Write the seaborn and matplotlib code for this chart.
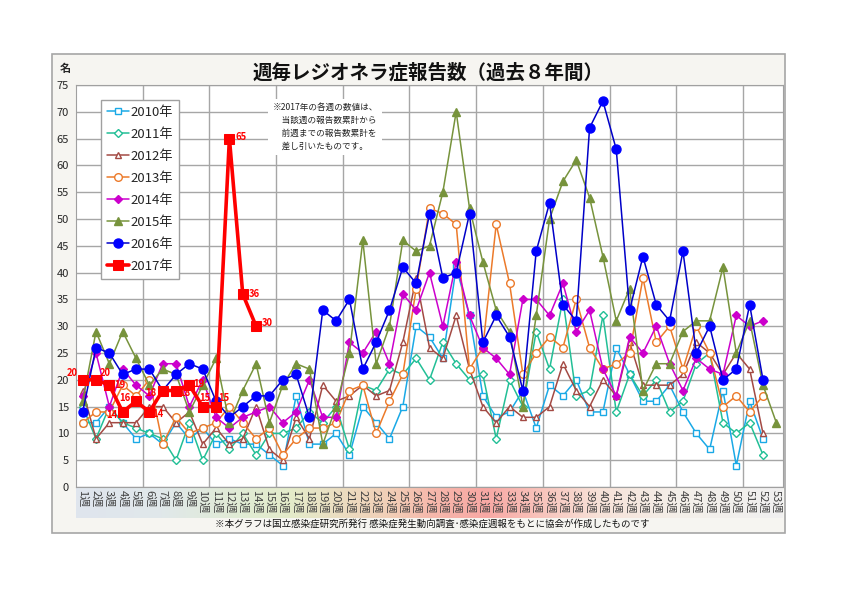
import numpy as np
import pandas as pd
import seaborn as sns
import matplotlib
matplotlib.use("Agg")
import matplotlib.pyplot as plt
from matplotlib.colors import LinearSegmentedColormap
from matplotlib.patches import Rectangle

# weekly counts
y2010 = [12, 12, 15, 12, 9, 10, 8, 12, 9, 11, 8, 9, 8, 8, 6, 4, 17, 8, 8, 10, 6, 15, 12, 9, 15, 30,
         28, 24, 41, 32, 17, 13, 14, 18, 11, 19, 17, 20, 14, 14, 26, 21, 16, 16, 19, 14, 10, 7, 18, 4, 16, 9]
y2011 = [15, 9, 15, 12, 11, 10, 9, 5, 12, 5, 10, 7, 10, 6, 10, 10, 11, 14, 12, 15, 7, 19, 18, 22, 21, 24,
         20, 27, 23, 20, 21, 9, 20, 15, 29, 22, 35, 17, 18, 32, 14, 21, 17, 20, 14, 16, 23, 25, 12, 10, 12, 6]
y2012 = [18, 9, 12, 12, 12, 15, 15, 12, 14, 8, 11, 8, 9, 15, 7, 5, 13, 9, 19, 16, 17, 19, 17, 18, 27, 39,
         26, 24, 32, 22, 15, 12, 15, 13, 13, 15, 23, 18, 15, 20, 17, 27, 19, 19, 19, 21, 27, 25, 21, 25, 22, 10]
y2013 = [12, 14, 14, 19, 17, 20, 8, 13, 10, 11, 12, 15, 12, 9, 11, 6, 9, 11, 11, 12, 18, 19, 10, 16, 21, 37,
         52, 51, 49, 22, 26, 49, 38, 21, 25, 28, 26, 35, 26, 22, 23, 25, 39, 27, 30, 22, 30, 25, 15, 17, 14, 17]
y2014 = [17, 25, 15, 22, 19, 17, 23, 23, 15, 20, 13, 11, 13, 14, 15, 12, 14, 20, 13, 13, 27, 25, 29, 23, 36, 33,
         40, 30, 42, 32, 26, 24, 21, 35, 35, 32, 38, 29, 33, 22, 17, 28, 25, 30, 23, 18, 24, 22, 21, 32, 30, 31]
y2015 = [16, 29, 23, 29, 24, 19, 22, 21, 14, 19, 24, 12, 18, 23, 12, 19, 23, 22, 8, 15, 25, 46, 23, 30, 46, 44,
         45, 55, 70, 52, 42, 33, 29, 15, 32, 50, 57, 61, 54, 43, 31, 37, 18, 23, 23, 29, 31, 31, 41, 25, 31, 19, 12]
y2016 = [14, 26, 25, 21, 22, 22, 18, 21, 23, 22, 16, 13, 15, 17, 17, 20, 21, 13, 33, 31, 35, 22, 27, 33, 41, 38,
         51, 39, 40, 51, 27, 32, 28, 18, 44, 53, 34, 31, 67, 72, 63, 33, 43, 34, 31, 44, 25, 30, 20, 22, 34, 20]
y2017 = [20, 20, 19, 14, 16, 14, 18, 18, 19, 15, 15, 65, 36, 30]

weeks = list(range(1, 54))
week_labels = [f"{w}週" for w in weeks]

# name, values, line colour, marker colour, marker, filled, size
series = [
    ("2010年", y2010, "#1aa9e6", "#1aa9e6", "s", False, 4.5),
    ("2011年", y2011, "#22bf96", "#22bf96", "D", False, 4),
    ("2012年", y2012, "#a34a44", "#a34a44", "^", False, 5),
    ("2013年", y2013, "#ec7a2a", "#ec7a2a", "o", False, 5.5),
    ("2014年", y2014, "#cc00cc", "#cc00cc", "D", True, 4),
    ("2015年", y2015, "#77933c", "#77933c", "^", True, 6),
    ("2016年", y2016, "#0000c8", "#0000ff", "o", True, 6.5),
]

# offsets (pixels) of the red data labels
lab_dx = [-10, 9, 11, -11, -11, 9, -12, 9, 9, 2, 8, 12, 12, 11]
lab_dy = [7, 7, 0, -3, 3, -2, -2, -2, 1, 9, 9, 2, 0, 3]

sns.set_style("white")
plt.rcParams["font.family"] = ["Noto Sans CJK JP", "DejaVu Sans"]

W, H = 842, 595
fig = plt.figure(figsize=(W / 100, H / 100), dpi=100)
fig.patch.set_facecolor("white")

# outer chart frame
fig.patches.append(Rectangle((52 / W, 1 - 533 / H), (785 - 52) / W, (533 - 54) / H,
                             transform=fig.transFigure, facecolor="#f6f5f1",
                             edgecolor="#a6a6a6", lw=1.2, zorder=-5))

ax_l, ax_r, ax_t, ax_b = 76, 783, 85, 487
# gradient band behind the week labels
band = fig.add_axes([ax_l / W, 1 - 518 / H, (ax_r - ax_l) / W, (518 - 488) / H])
band_cmap = LinearSegmentedColormap.from_list("band", [
    (0.0, "#dfe5ee"), (0.12, "#e1e8ea"), (0.22, "#e0ebd6"), (0.3, "#e4ecca"),
    (0.38, "#ecdcc0"), (0.45, "#f2cdb6"), (0.5, "#f6b9ac"), (0.58, "#f8a8a4"),
    (0.66, "#f8c4bc"), (0.74, "#f7e2d8"), (0.85, "#f4efe9"), (1.0, "#f0f0f0")])
band.imshow(np.linspace(0, 1, 256)[None, :], aspect="auto", cmap=band_cmap)
band.axis("off")

ax = fig.add_axes([ax_l / W, 1 - ax_b / H, (ax_r - ax_l) / W, (ax_b - ax_t) / H])
ax.set_facecolor("white")

for name, vals, col, mcol, mk, filled, ms in series:
    df = pd.DataFrame({"week": weeks[:len(vals)], "count": vals})
    sns.lineplot(data=df, x="week", y="count", ax=ax, color=col, lw=1.1,
                 marker=mk, markersize=ms, markeredgecolor=mcol,
                 markerfacecolor=mcol if filled else "white", markeredgewidth=1,
                 label=name, zorder=3)

df17 = pd.DataFrame({"week": weeks[:len(y2017)], "count": y2017})
sns.lineplot(data=df17, x="week", y="count", ax=ax, color="#ff0000", lw=2.6,
             marker="s", markersize=7, markeredgecolor="#ff0000",
             markerfacecolor="#ff0000", label="2017年", zorder=5)
for w, v, dx, dy in zip(df17["week"], df17["count"], lab_dx, lab_dy):
    ax.annotate(str(v), (w, v), xytext=(dx, dy), textcoords="offset pixels",
                ha="center", va="center", color="#ff0000", fontsize=6.8,
                fontweight="bold", zorder=6)

ax.set_xlim(0.5, 53.5)
ax.set_ylim(0, 75)
ax.set_yticks(range(0, 80, 5))
ax.set_xticks(weeks)
ax.set_xticklabels(week_labels, rotation=270, fontsize=8, color="#404040")
ax.set_xticks(np.arange(5.5, 51, 5), minor=True)
ax.tick_params(axis="x", which="both", length=0, pad=2)
ax.tick_params(axis="y", length=3, color="#a0a0a0", labelsize=8, pad=2)
ax.grid(axis="y", color="#a6a6a6", lw=1)
ax.grid(axis="x", which="minor", color="#a6a6a6", lw=1)
ax.set_axisbelow(True)
ax.set_xlabel("")
ax.set_ylabel("")
for s in ax.spines.values():
    s.set_color("#a0a0a0")

leg = ax.legend(loc="upper left", bbox_to_anchor=(0.036, 0.963), borderaxespad=0,
                fontsize=9.5, frameon=True, fancybox=False, edgecolor="#a0a0a0",
                framealpha=1, handlelength=1.6, handletextpad=0.15,
                labelspacing=0.68, borderpad=0.45)
leg.set_zorder(10)

ax.text(0.278, 0.955,
        "※2017年の各週の数値は、\n　当該週の報告数累計から\n　前週までの報告数累計を\n　差し引いたものです。",
        transform=ax.transAxes, ha="left", va="top", fontsize=6.2, linespacing=1.55,
        color="#222222", zorder=8,
        bbox=dict(facecolor="white", edgecolor="none", pad=3))

fig.text(428 / W, 1 - 73 / H, "週毎レジオネラ症報告数（過去８年間）", ha="center", va="center",
         fontsize=14, fontweight="bold", color="#111111")
fig.text(65 / W, 1 - 68 / H, "名", ha="center", va="center", fontsize=8, fontweight="bold")
fig.text(432 / W, 1 - 524 / H,
         "※本グラフは国立感染症研究所発行 感染症発生動向調査･感染症週報をもとに協会が作成したものです",
         ha="center", va="center", fontsize=6.8, color="#111111")

fig.savefig("out.png", dpi=100)
